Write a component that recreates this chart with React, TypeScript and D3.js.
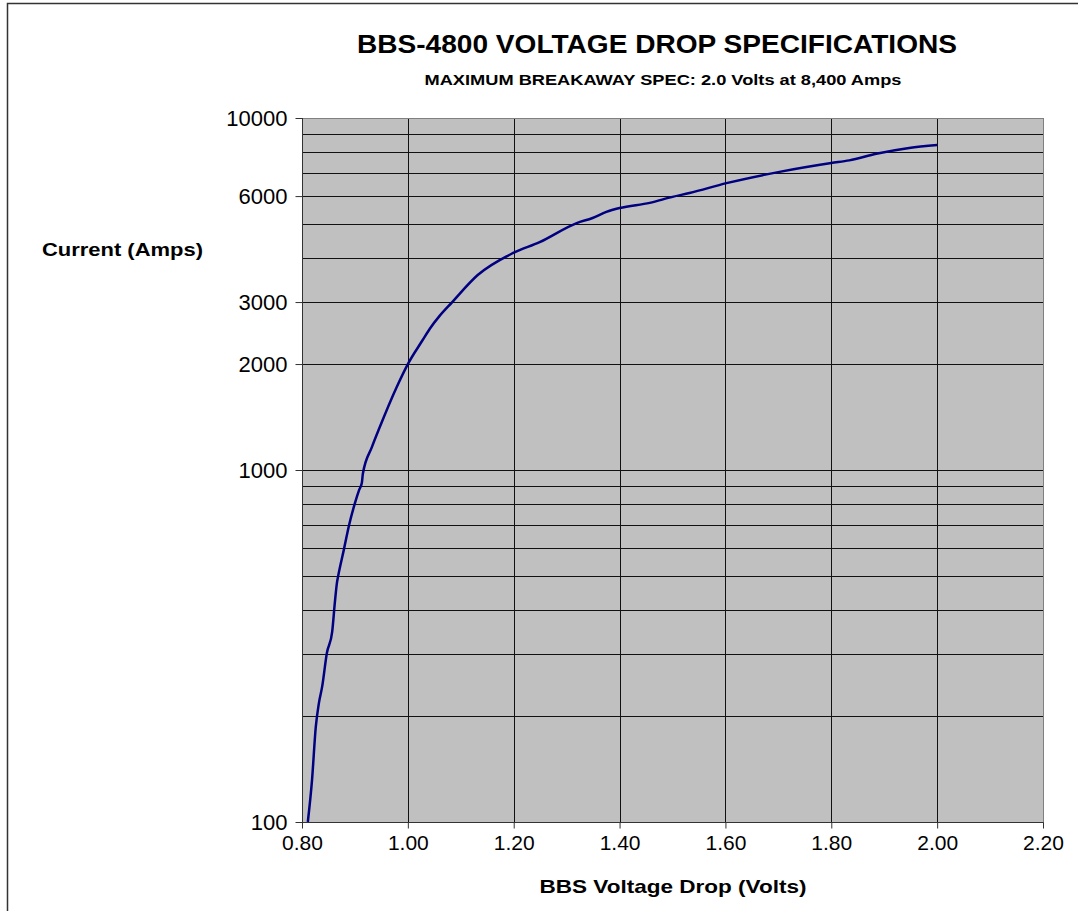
import React, { useEffect, useRef } from 'react'
import * as d3 from 'd3'

// curve (volts vs amps)
const volts = [0.811, 0.819, 0.826, 0.832, 0.838, 0.847, 0.857, 0.862, 0.866, 0.868, 0.879, 0.889, 0.9, 0.908, 0.913, 0.915, 0.932, 0.947, 0.979, 1.0, 1.028, 1.0415, 1.06, 1.083, 1.132, 1.198, 1.249, 1.319, 1.349, 1.375, 1.4, 1.457, 1.5, 1.532, 1.602, 1.702, 1.8, 1.834, 1.885, 1.947, 2.0]
const amps = [100, 132, 186, 218, 242, 302, 347, 419, 478, 497, 593, 698, 805, 878, 918, 976, 1161, 1325, 1722, 2000, 2340, 2520, 2740, 2990, 3580, 4130, 4440, 5030, 5200, 5410, 5550, 5740, 5970, 6120, 6530, 7030, 7450, 7580, 7910, 8220, 8380]

const xTicks = [0.8, 1.0, 1.2, 1.4, 1.6, 1.8, 2.0, 2.2]
const yLabelTicks = [100, 1000, 2000, 3000, 6000, 10000]
const yGridTicks = [200, 300, 400, 500, 600, 700, 800, 900, 1000, 2000, 3000, 4000, 5000, 6000, 7000, 8000, 9000]

const title = 'BBS-4800 VOLTAGE DROP SPECIFICATIONS'
const subtitle = 'MAXIMUM BREAKAWAY SPEC: 2.0 Volts at 8,400 Amps'
const yTitle = 'Current (Amps)'
const xTitle = 'BBS Voltage Drop (Volts)'

export default function App() {
    const ref = useRef<SVGSVGElement>(null)

    useEffect(() => {
        const svg = d3.select(ref.current)
        svg.selectAll('*').remove()

        const left = 302, right = 1043, top = 118, bottom = 822
        const font = '"Liberation Sans", Arial, sans-serif'

        const xScale = d3.scaleLinear().domain([0.8, 2.2]).range([left, right])
        const yScale = d3.scaleLog().domain([100, 10000]).range([bottom, top])

        // outer chart frame
        svg.append('rect')
            .attr('x', 7.5).attr('y', 3.5)
            .attr('width', 1100).attr('height', 1000)
            .attr('fill', 'white')
            .attr('stroke', '#333').attr('stroke-width', 1.5)

        // plot area
        svg.append('rect')
            .attr('x', left).attr('y', top)
            .attr('width', right - left).attr('height', bottom - top)
            .attr('fill', '#c0c0c0')

        // gridlines
        svg.append('g').selectAll('line')
            .data(yGridTicks)
            .enter().append('line')
            .attr('x1', left).attr('x2', right)
            .attr('y1', d => Math.round(yScale(d)) + 0.5)
            .attr('y2', d => Math.round(yScale(d)) + 0.5)
            .attr('stroke', '#111').attr('stroke-width', 1)

        svg.append('g').selectAll('line')
            .data(xTicks.slice(1, -1))
            .enter().append('line')
            .attr('x1', d => Math.round(xScale(d)) + 0.5)
            .attr('x2', d => Math.round(xScale(d)) + 0.5)
            .attr('y1', top).attr('y2', bottom)
            .attr('stroke', '#111').attr('stroke-width', 1)

        // plot border
        svg.append('rect')
            .attr('x', left + 0.5).attr('y', top + 0.5)
            .attr('width', right - left).attr('height', bottom - top)
            .attr('fill', 'none')
            .attr('stroke', '#808080').attr('stroke-width', 1)

        // x axis
        const xAxis = svg.append('g')
            .attr('transform', 'translate(0,' + (bottom + 0.5) + ')')
            .call(d3.axisBottom(xScale).tickValues(xTicks).tickSize(6).tickPadding(7).tickFormat(d3.format('.2f')))
        xAxis.select('.domain').attr('stroke', '#333').attr('d', 'M' + left + ',0H' + (right + 0.5))
        xAxis.selectAll('.tick line').attr('stroke', '#333')
        xAxis.selectAll('text')
            .style('font-family', font).style('font-size', '21px').attr('fill', '#000')

        // y axis
        const yAxis = svg.append('g')
            .attr('transform', 'translate(' + (left + 0.5) + ',0)')
            .call(d3.axisLeft(yScale).tickValues(yLabelTicks).tickSize(7).tickPadding(8).tickFormat(d3.format('d')))
        yAxis.select('.domain').attr('stroke', '#333').attr('d', 'M0,' + top + 'V' + bottom)
        yAxis.selectAll('.tick line').attr('stroke', '#333')
        yAxis.selectAll('text')
            .style('font-family', font).style('font-size', '22px').attr('fill', '#000')

        // the curve
        const line = d3.line<number>()
            .x((d, i) => xScale(volts[i]))
            .y(d => yScale(d))
            .curve(d3.curveMonotoneX)

        svg.append('path')
            .datum(amps)
            .attr('fill', 'none')
            .attr('stroke', '#000080')
            .attr('stroke-width', 2.5)
            .attr('d', line)

        // titles
        svg.append('text')
            .attr('x', 657).attr('y', 53)
            .attr('text-anchor', 'middle')
            .attr('textLength', 600).attr('lengthAdjust', 'spacingAndGlyphs')
            .style('font-family', font).style('font-size', '25px').style('font-weight', 'bold')
            .text(title)

        svg.append('text')
            .attr('x', 663).attr('y', 85)
            .attr('text-anchor', 'middle')
            .attr('textLength', 477).attr('lengthAdjust', 'spacingAndGlyphs')
            .style('font-family', font).style('font-size', '15px').style('font-weight', 'bold')
            .text(subtitle)

        svg.append('text')
            .attr('x', 42).attr('y', 256)
            .attr('textLength', 161).attr('lengthAdjust', 'spacingAndGlyphs')
            .style('font-family', font).style('font-size', '18px').style('font-weight', 'bold')
            .text(yTitle)

        svg.append('text')
            .attr('x', 673).attr('y', 893)
            .attr('text-anchor', 'middle')
            .attr('textLength', 267).attr('lengthAdjust', 'spacingAndGlyphs')
            .style('font-family', font).style('font-size', '19px').style('font-weight', 'bold')
            .text(xTitle)
    }, [])

    return (
        <svg ref={ref} width={1078} height={911}
            style={{ position: 'absolute', left: 0, top: 0, background: 'white' }} />
    )
}
